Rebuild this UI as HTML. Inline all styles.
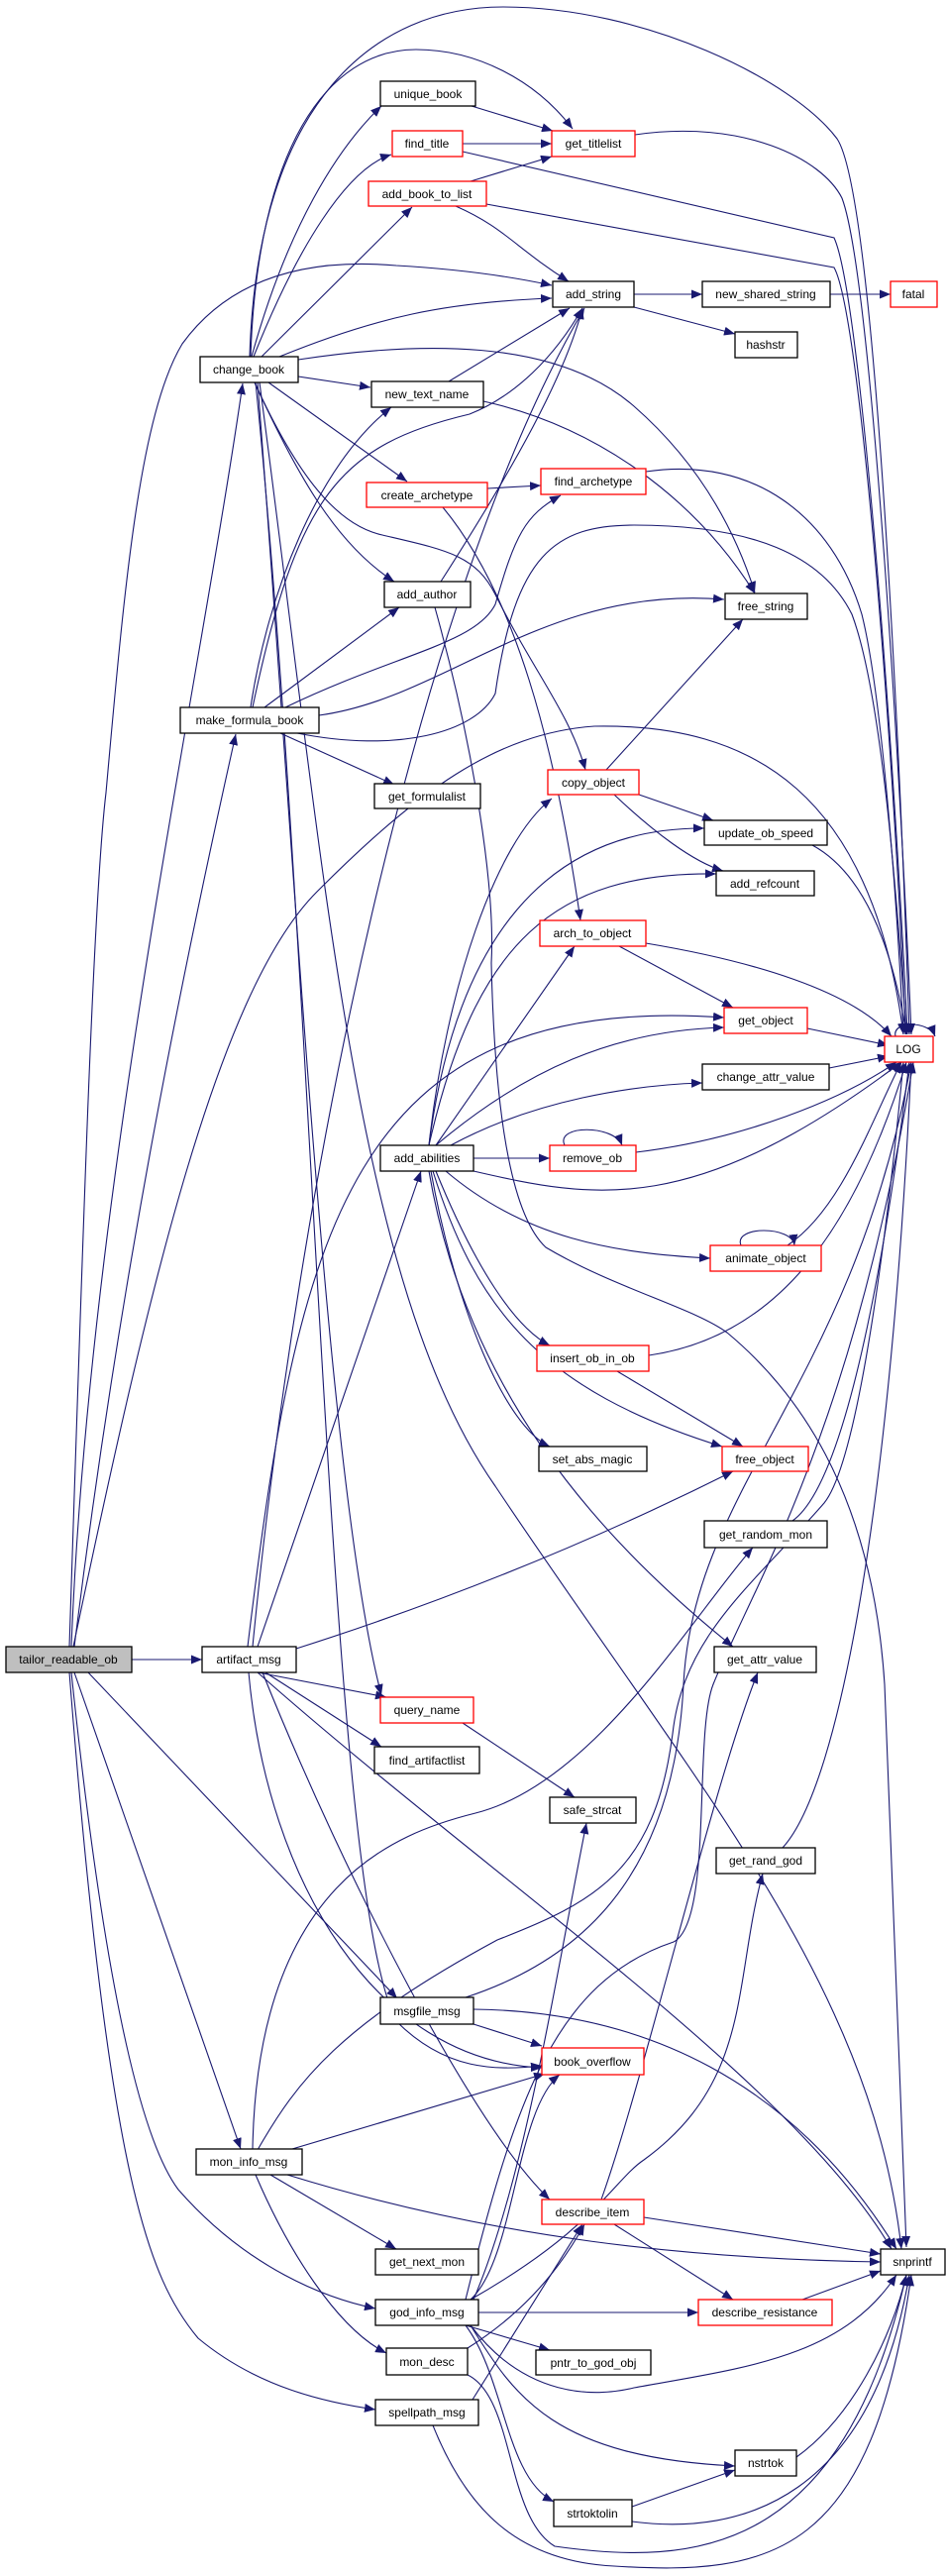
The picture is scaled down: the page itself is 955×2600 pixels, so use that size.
<!DOCTYPE html>
<html><head><meta charset="utf-8"><style>
html,body{margin:0;padding:0;background:#fff;}
svg{display:block;}
text{font-family:"Liberation Sans",sans-serif;font-size:12px;fill:#000;}
.e{fill:none;stroke:#191970;stroke-width:1.1;}
.n{fill:#fff;stroke:#000;stroke-width:1.3;}
.r{fill:#fff;stroke:#ff0000;stroke-width:1.3;}
</style></head><body>
<svg width="955" height="2600" viewBox="0 0 955 2600" xmlns="http://www.w3.org/2000/svg">
<defs><marker id="a" markerUnits="userSpaceOnUse" markerWidth="12" markerHeight="9" refX="11" refY="4.5" orient="auto"><path d="M0,0 L11,4.5 L0,9 z" fill="#191970"/></marker></defs>
<g class="e" marker-end="url(#a)">
<path d="M252,360 C260,100 380,7 508,7 C650,7 800,80 845,140 C885,200 910,800 918,1044"/>
<path d="M253,360 C260,150 330,50 420,50 C480,50 540,80 578,130"/>
<path d="M254,360 C290,230 340,150 385,107"/>
<path d="M256,360 C300,250 350,170 395,156"/>
<path d="M264,360 L416,209"/>
<path d="M282,360 C380,320 450,305 557,301"/>
<path d="M301,363 C420,345 560,340 640,410 C720,480 750,560 762,598"/>
<path d="M301,380 L374,391"/>
<path d="M271,386 L411,486"/>
<path d="M257,386 C300,480 340,550 398,587"/>
<path d="M257,386 C300,480 340,530 386,540 C450,555 480,560 500,600 C540,680 575,720 591,777"/>
<path d="M260,386 C300,900 330,1500 385,1711"/>
<path d="M262,386 C330,900 360,1300 500,1500 C700,1800 880,2000 910,2270"/>
<path d="M258,386 C320,1000 330,1900 400,2040 C450,2090 500,2090 547,2085"/>
<path d="M72,1662 C90,1200 200,700 245,387"/>
<path d="M70,1662 C85,1200 95,900 107,800 C125,600 140,420 184,347 C240,270 330,262 400,268 C470,272 520,280 557,288"/>
<path d="M75,1662 C120,1300 180,1000 238,741"/>
<path d="M74,1662 C150,1300 220,1000 320,900 C420,800 500,740 600,733 C760,730 880,800 912,1044"/>
<path d="M133,1675 L204,1675"/>
<path d="M89,1688 L401,2017"/>
<path d="M75,1688 L243,2169"/>
<path d="M72,1688 C110,2050 150,2170 180,2210 C250,2290 330,2320 379,2330"/>
<path d="M70,1688 C110,2200 150,2300 200,2360 C260,2410 330,2425 379,2432"/>
<path d="M267,714 L403,613"/>
<path d="M255,714 C300,500 343,449 474,418 C520,400 560,360 588,311"/>
<path d="M253,714 C270,600 320,470 395,411"/>
<path d="M288,714 C400,660 480,650 500,610 C520,540 530,520 566,500"/>
<path d="M322,722 C450,705 550,590 731,605"/>
<path d="M300,740 C400,760 480,740 500,700 C520,560 560,530 640,530 C760,530 830,560 860,620 C890,700 905,900 915,1044"/>
<path d="M283,740 L398,792"/>
<path d="M476,107 L558,132"/>
<path d="M467,145 L557,145"/>
<path d="M467,153 L842,240 C870,300 905,800 916,1044"/>
<path d="M475,183 L557,158"/>
<path d="M460,208 C510,230 520,250 574,284"/>
<path d="M491,206 L842,270 C870,320 905,800 914,1044"/>
<path d="M641,136 C750,120 830,160 850,200 C880,280 910,800 920,1044"/>
<path d="M640,297 L709,297"/>
<path d="M640,310 L742,337"/>
<path d="M838,297 L899,297"/>
<path d="M453,385 L575,311"/>
<path d="M488,405 C600,430 700,500 762,599"/>
<path d="M492,493 L546,490"/>
<path d="M447,512 C520,600 560,750 586,929"/>
<path d="M652,476 C760,460 840,520 870,620 C890,700 905,900 912,1044"/>
<path d="M445,587 C520,470 570,380 588,311"/>
<path d="M439,613 C480,760 500,900 496,972 C500,1144 520,1230 551,1259 C620,1300 700,1320 734,1345 C800,1400 880,1500 893,1700 L915,2268"/>
<path d="M612,777 L750,625"/>
<path d="M645,802 L720,828"/>
<path d="M620,802 C660,840 700,870 730,879"/>
<path d="M820,853 C870,880 900,950 915,1044"/>
<path d="M625,955 L740,1017"/>
<path d="M652,952 C760,970 860,1000 900,1046"/>
<path d="M815,1038 L897,1055"/>
<path d="M837,1078 L897,1066"/>
<path d="M642,1163 C750,1150 850,1110 905,1072"/>
<path d="M795,1257 C850,1220 880,1130 910,1072"/>
<path d="M655,1368 C780,1350 860,1250 915,1072"/>
<path d="M623,1384 L750,1460"/>
<path d="M800,1535 C850,1500 890,1300 918,1072"/>
<path d="M790,1865 C850,1800 900,1500 920,1072"/>
<path d="M904,1046 C900,1030 938,1030 944,1046"/>
<path d="M570,1156 C560,1135 620,1135 628,1156"/>
<path d="M748,1257 C740,1237 800,1237 802,1257"/>
<path d="M433,1156 C450,1000 500,850 557,806"/>
<path d="M433,1156 C460,950 550,835 711,836"/>
<path d="M433,1156 C480,950 560,880 723,882"/>
<path d="M440,1156 L580,955"/>
<path d="M440,1156 C530,1080 620,1040 731,1037"/>
<path d="M455,1156 C540,1110 640,1095 709,1093"/>
<path d="M478,1169 L555,1169"/>
<path d="M478,1182 C600,1210 700,1230 910,1072"/>
<path d="M450,1182 C530,1250 620,1265 717,1270"/>
<path d="M440,1182 C480,1280 520,1340 555,1358"/>
<path d="M437,1182 C480,1320 545,1403 729,1460"/>
<path d="M435,1182 C460,1320 510,1440 555,1460"/>
<path d="M433,1182 C470,1400 600,1550 740,1662"/>
<path d="M260,1662 L425,1182"/>
<path d="M299,1664 C500,1600 650,1530 740,1485"/>
<path d="M255,1662 C300,1200 420,600 590,311"/>
<path d="M250,1662 C300,1250 350,1000 731,1027"/>
<path d="M268,1688 L385,1763"/>
<path d="M260,1688 L390,1713"/>
<path d="M251,1688 C270,1900 380,2080 547,2087"/>
<path d="M260,1688 C500,1900 800,2100 900,2270"/>
<path d="M265,1688 C350,1900 480,2150 555,2220"/>
<path d="M255,2169 C260,1900 400,1850 480,1830 C600,1800 700,1630 760,1562"/>
<path d="M295,2169 L550,2093"/>
<path d="M290,2195 C500,2260 700,2280 889,2283"/>
<path d="M273,2195 L400,2270"/>
<path d="M258,2195 C290,2270 340,2350 390,2375"/>
<path d="M260,2170 C300,2100 343,2044 502,1958 C600,1920 661,1889 679,1750 C690,1650 760,1600 832,1517 C870,1470 900,1200 912,1072"/>
<path d="M478,2043 L547,2065"/>
<path d="M478,2028 C650,2030 800,2100 905,2270"/>
<path d="M470,2016 C580,1980 680,1900 690,1700 C700,1500 860,1400 920,1072"/>
<path d="M650,2238 L889,2275"/>
<path d="M620,2245 L740,2321"/>
<path d="M607,2220 C650,2100 720,1800 765,1688"/>
<path d="M475,2321 C520,2280 520,2130 565,2094"/>
<path d="M478,2321 C530,2200 560,2000 592,1840"/>
<path d="M475,2321 C600,2250 620,2200 650,2180 C760,2100 740,2000 770,1891"/>
<path d="M470,2321 C520,2120 560,2000 680,1960 C720,1940 700,1750 720,1700 C760,1600 860,1450 922,1072"/>
<path d="M483,2334 L705,2334"/>
<path d="M470,2347 L555,2372"/>
<path d="M475,2347 C530,2420 600,2420 640,2410 C750,2390 850,2380 905,2296"/>
<path d="M475,2347 C520,2420 560,2480 742,2489"/>
<path d="M470,2347 C510,2400 510,2500 559,2525"/>
<path d="M472,2370 C520,2340 560,2300 590,2245"/>
<path d="M472,2397 C520,2420 510,2540 560,2570 C700,2590 850,2580 915,2296"/>
<path d="M477,2422 L588,2245"/>
<path d="M437,2448 C470,2530 520,2585 620,2590 C780,2600 880,2580 920,2296"/>
<path d="M810,2321 L889,2292"/>
<path d="M804,2480 C860,2440 900,2360 915,2296"/>
<path d="M638,2530 L742,2493"/>
<path d="M638,2545 C750,2560 880,2520 918,2296"/>
<path d="M467,1739 L580,1814"/>
</g>
<g text-anchor="middle">
<rect class="n" x="384" y="82" width="96" height="25"/><text x="432" y="99">unique_book</text>
<rect class="r" x="396" y="132" width="71" height="26"/><text x="431" y="149">find_title</text>
<rect class="r" x="557" y="132" width="84" height="26"/><text x="599" y="149">get_titlelist</text>
<rect class="r" x="372" y="183" width="119" height="25"/><text x="431" y="200">add_book_to_list</text>
<rect class="n" x="558" y="284" width="82" height="26"/><text x="599" y="301">add_string</text>
<rect class="n" x="709" y="284" width="129" height="26"/><text x="773" y="301">new_shared_string</text>
<rect class="r" x="899" y="284" width="47" height="26"/><text x="922" y="301">fatal</text>
<rect class="n" x="742" y="335" width="63" height="26"/><text x="773" y="352">hashstr</text>
<rect class="n" x="202" y="360" width="99" height="26"/><text x="251" y="377">change_book</text>
<rect class="n" x="375" y="385" width="113" height="26"/><text x="431" y="402">new_text_name</text>
<rect class="r" x="370" y="487" width="122" height="25"/><text x="431" y="504">create_archetype</text>
<rect class="r" x="546" y="473" width="106" height="26"/><text x="599" y="490">find_archetype</text>
<rect class="n" x="388" y="587" width="87" height="26"/><text x="431" y="604">add_author</text>
<rect class="n" x="732" y="599" width="83" height="26"/><text x="773" y="616">free_string</text>
<rect class="n" x="182" y="714" width="140" height="26"/><text x="252" y="731">make_formula_book</text>
<rect class="r" x="553" y="777" width="92" height="25"/><text x="599" y="794">copy_object</text>
<rect class="n" x="378" y="791" width="107" height="25"/><text x="431" y="808">get_formulalist</text>
<rect class="n" x="711" y="828" width="124" height="25"/><text x="773" y="845">update_ob_speed</text>
<rect class="n" x="723" y="879" width="99" height="25"/><text x="772" y="896">add_refcount</text>
<rect class="r" x="545" y="929" width="107" height="26"/><text x="598" y="946">arch_to_object</text>
<rect class="r" x="731" y="1017" width="84" height="26"/><text x="773" y="1034">get_object</text>
<rect class="r" x="893" y="1046" width="49" height="26"/><text x="917" y="1063">LOG</text>
<rect class="n" x="709" y="1074" width="128" height="26"/><text x="773" y="1091">change_attr_value</text>
<rect class="r" x="555" y="1156" width="87" height="26"/><text x="598" y="1173">remove_ob</text>
<rect class="n" x="384" y="1156" width="94" height="26"/><text x="431" y="1173">add_abilities</text>
<rect class="r" x="717" y="1257" width="112" height="26"/><text x="773" y="1274">animate_object</text>
<rect class="r" x="542" y="1358" width="113" height="26"/><text x="598" y="1375">insert_ob_in_ob</text>
<rect class="n" x="544" y="1460" width="109" height="25"/><text x="598" y="1477">set_abs_magic</text>
<rect class="r" x="729" y="1460" width="87" height="25"/><text x="772" y="1477">free_object</text>
<rect class="n" x="711" y="1535" width="124" height="27"/><text x="773" y="1553">get_random_mon</text>
<rect x="6" y="1662" width="127" height="26" fill="#bfbfbf" stroke="#000" stroke-width="1.3"/><text x="69" y="1679">tailor_readable_ob</text>
<rect class="n" x="204" y="1662" width="95" height="26"/><text x="251" y="1679">artifact_msg</text>
<rect class="n" x="721" y="1662" width="103" height="26"/><text x="772" y="1679">get_attr_value</text>
<rect class="r" x="384" y="1713" width="94" height="26"/><text x="431" y="1730">query_name</text>
<rect class="n" x="378" y="1763" width="106" height="27"/><text x="431" y="1781">find_artifactlist</text>
<rect class="n" x="555" y="1814" width="87" height="26"/><text x="598" y="1831">safe_strcat</text>
<rect class="n" x="723" y="1865" width="100" height="26"/><text x="773" y="1882">get_rand_god</text>
<rect class="n" x="384" y="2016" width="94" height="27"/><text x="431" y="2034">msgfile_msg</text>
<rect class="r" x="547" y="2067" width="103" height="27"/><text x="598" y="2085">book_overflow</text>
<rect class="n" x="198" y="2169" width="107" height="26"/><text x="251" y="2186">mon_info_msg</text>
<rect class="r" x="547" y="2220" width="103" height="25"/><text x="598" y="2237">describe_item</text>
<rect class="n" x="889" y="2270" width="65" height="26"/><text x="921" y="2287">snprintf</text>
<rect class="n" x="379" y="2270" width="104" height="26"/><text x="431" y="2287">get_next_mon</text>
<rect class="n" x="379" y="2321" width="104" height="26"/><text x="431" y="2338">god_info_msg</text>
<rect class="r" x="705" y="2321" width="135" height="26"/><text x="772" y="2338">describe_resistance</text>
<rect class="n" x="390" y="2370" width="82" height="27"/><text x="431" y="2388">mon_desc</text>
<rect class="n" x="541" y="2372" width="116" height="25"/><text x="599" y="2389">pntr_to_god_obj</text>
<rect class="n" x="379" y="2422" width="104" height="26"/><text x="431" y="2439">spellpath_msg</text>
<rect class="n" x="742" y="2473" width="62" height="26"/><text x="773" y="2490">nstrtok</text>
<rect class="n" x="559" y="2523" width="79" height="27"/><text x="598" y="2541">strtoktolin</text>
</g>
</svg>
</body></html>
